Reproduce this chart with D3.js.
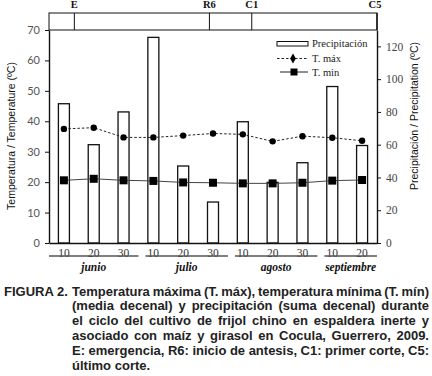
<!DOCTYPE html>
<html>
<head>
<meta charset="utf-8">
<script src="https://cdn.jsdelivr.net/npm/d3@7"></script>
<style>
  body { margin: 0; background: #fff; }
  svg { display: block; }
</style>
</head>
<body>
<div id="chrt"></div>
<script>
// decades (10, 20, 30 of each month)
const decadeLabels = ['10', '20', '30', '10', '20', '30', '10', '20', '30', '10', '20'];
const precip = [85, 60, 80, 125.5, 47, 25, 74, 37, 49, 95.5, 59.5];   // mm, right axis
const tMax = [37.5, 37.9, 34.7, 34.7, 35.3, 36.0, 35.7, 33.4, 35.1, 34.6, 33.6];
const tMin = [20.6, 21.1, 20.6, 20.4, 19.9, 19.8, 19.6, 19.6, 19.8, 20.5, 20.7];
const months = ['junio', 'julio', 'agosto', 'septiembre'];
const monthStart = [0, 3, 6, 9];
const monthCount = [3, 3, 3, 2];
// crop stages (position in decade index units)
const stageLabels = ['E', 'R6', 'C1', 'C5'];
const stagePos = [0.35, 4.88, 6.3, 10.5];
const leftTicks = [0, 10, 20, 30, 40, 50, 60, 70];
const rightTicks = [0, 20, 40, 60, 80, 100, 120];
const captionLines = [
  'Temperatura máxima (T. máx), temperatura mínima (T. mín)',
  '(media decenal) y precipitación (suma decenal) durante',
  'el ciclo del cultivo de frijol chino en espaldera inerte y',
  'asociado con maíz y girasol en Cocula, Guerrero, 2009.',
  'E: emergencia, R6: inicio de antesis, C1: primer corte, C5:',
  'último corte.'
];

const W = 432, H = 376;
const plotL = 49, plotR = 377, plotT = 30, plotB = 243, bandT = 13;

const svg = d3.select('#chrt').append('svg').attr('width', W).attr('height', H);

const idx = d3.range(decadeLabels.length);
const scaleX = d3.scaleBand().domain(idx).range([plotL, plotR]);
const bw = scaleX.bandwidth();
const cx = (i) => scaleX(i) + bw / 2;
const stageX = d3.scaleLinear().domain([-0.5, decadeLabels.length - 0.5]).range([plotL, plotR]);
const scaleYL = d3.scaleLinear().domain([0, 70]).range([plotB, plotT]);
const scaleYR = d3.scaleLinear().domain([0, 130]).range([plotB, plotT]);

// bars (precipitation)
const barW = 11;
svg.append('g').selectAll('rect')
    .data(precip)
    .enter().append('rect')
    .attr('x', (d, i) => cx(i) - barW / 2)
    .attr('y', (d) => scaleYR(d))
    .attr('width', barW)
    .attr('height', (d) => plotB - scaleYR(d))
    .attr('fill', '#fff')
    .attr('stroke', '#111')
    .attr('stroke-width', 1.3);

// T min line
svg.append('path')
    .datum(tMin)
    .attr('fill', 'none')
    .attr('stroke', '#444')
    .attr('stroke-width', 1)
    .attr('d', d3.line().x((d, i) => cx(i)).y((d) => scaleYL(d)));
svg.append('g').selectAll('rect')
    .data(tMin)
    .enter().append('rect')
    .attr('x', (d, i) => cx(i) - 4)
    .attr('y', (d) => scaleYL(d) - 4)
    .attr('width', 8)
    .attr('height', 8)
    .attr('fill', '#000');

// T max line
svg.append('path')
    .datum(tMax)
    .attr('fill', 'none')
    .attr('stroke', '#222')
    .attr('stroke-width', 1)
    .attr('stroke-dasharray', '2.5,2')
    .attr('d', d3.line().x((d, i) => cx(i)).y((d) => scaleYL(d)));
svg.append('g').selectAll('circle')
    .data(tMax)
    .enter().append('circle')
    .attr('cx', (d, i) => cx(i))
    .attr('cy', (d) => scaleYL(d))
    .attr('r', 3.2)
    .attr('fill', '#000');

// axes
const axL = svg.append('g').attr('transform', 'translate(' + plotL + ',0)')
    .call(d3.axisLeft(scaleYL).tickValues(leftTicks).tickSize(4).tickSizeOuter(0));
axL.selectAll('text').attr('font-family', 'Lato, sans-serif').attr('font-size', 11).attr('fill', '#555').attr('dx', -2);
const axR = svg.append('g').attr('transform', 'translate(' + plotR + ',0)')
    .call(d3.axisRight(scaleYR).tickValues(rightTicks).tickSize(4).tickSizeOuter(0));
axR.selectAll('text').attr('font-family', '"Liberation Serif", serif').attr('font-size', 11.5).attr('fill', '#444').attr('dx', 2);
[axL, axR].forEach((a) => {
  a.select('.domain').attr('stroke', '#111').attr('stroke-width', 1.4);
  a.selectAll('line').attr('stroke', '#111');
});

const axB = svg.append('g').attr('transform', 'translate(0,' + plotB + ')')
    .call(d3.axisBottom(scaleX).tickFormat((i) => decadeLabels[i]).tickSize(0).tickSizeOuter(0).tickPadding(6));
axB.select('.domain').attr('stroke', '#111').attr('stroke-width', 1.4);
axB.selectAll('text').attr('font-family', '"Liberation Serif", serif').attr('font-size', 11.5).attr('fill', '#333');

// stage header band
svg.append('rect')
    .attr('x', plotL).attr('y', bandT)
    .attr('width', plotR - plotL).attr('height', plotT - bandT)
    .attr('fill', 'none').attr('stroke', '#111').attr('stroke-width', 1);
svg.append('line')
    .attr('x1', plotR).attr('x2', plotR).attr('y1', bandT).attr('y2', plotT)
    .attr('stroke', '#111').attr('stroke-width', 1.4);
svg.append('g').selectAll('line')
    .data(stagePos.slice(0, 3))
    .enter().append('line')
    .attr('x1', (d) => stageX(d)).attr('x2', (d) => stageX(d))
    .attr('y1', bandT).attr('y2', plotT)
    .attr('stroke', '#111').attr('stroke-width', 1);
svg.append('g').selectAll('text')
    .data(stageLabels)
    .enter().append('text')
    .attr('x', (d, i) => stageX(stagePos[i]) - (i === 3 ? 2 : 0))
    .attr('y', 8)
    .attr('text-anchor', 'middle')
    .attr('font-family', '"Liberation Serif", serif')
    .attr('font-weight', 'bold')
    .attr('font-size', 10.5)
    .attr('fill', '#111')
    .text((d) => d);

// month groups
months.forEach((m, k) => {
  const x0 = scaleX(monthStart[k]) + (k === 0 ? 0 : 7);
  const x1 = scaleX(monthStart[k] + monthCount[k] - 1) + bw;
  svg.append('line')
      .attr('x1', x0).attr('x2', x1).attr('y1', 256).attr('y2', 256)
      .attr('stroke', '#555').attr('stroke-width', 1.3);
  svg.append('text')
      .attr('x', (x0 + x1) / 2)
      .attr('y', 271)
      .attr('text-anchor', 'middle')
      .attr('font-family', '"Liberation Serif", serif')
      .attr('font-style', 'italic')
      .attr('font-weight', 'bold')
      .attr('font-size', 11.5)
      .attr('fill', '#111')
      .text(m);
});

// axis titles
svg.append('text')
    .attr('transform', 'translate(15,' + 136 + ') rotate(-90)')
    .attr('text-anchor', 'middle')
    .attr('font-family', '"Liberation Sans", Arial, sans-serif')
    .attr('font-size', 10.5)
    .attr('fill', '#111')
    .text('Temperatura / Temperature (ºC)');
svg.append('text')
    .attr('transform', 'translate(418,' + 116 + ') rotate(-90)')
    .attr('text-anchor', 'middle')
    .attr('font-family', '"Liberation Sans", Arial, sans-serif')
    .attr('font-size', 10.5)
    .attr('fill', '#111')
    .text('Precipitación / Precipitation (ºC)');

// legend
const lg = svg.append('g').attr('transform', 'translate(277,0)');
const lgFont = (sel) => sel.attr('font-family', '"Liberation Serif", serif').attr('font-size', 10.5).attr('fill', '#222');
lg.append('rect').attr('x', 0).attr('y', 41.5).attr('width', 31).attr('height', 4.5)
    .attr('fill', '#fff').attr('stroke', '#111').attr('stroke-width', 1);
lgFont(lg.append('text').attr('x', 35).attr('y', 47).text('Precipitación'));
lg.append('line').attr('x1', 0).attr('x2', 31).attr('y1', 58.5).attr('y2', 58.5)
    .attr('stroke', '#222').attr('stroke-dasharray', '2.5,2');
lg.append('path').attr('d', d3.symbol(d3.symbolDiamond, 28)).attr('transform', 'translate(16,58.5)').attr('fill', '#000');
lgFont(lg.append('text').attr('x', 35).attr('y', 62).text('T. máx'));
lg.append('line').attr('x1', 3).attr('x2', 31).attr('y1', 72).attr('y2', 72).attr('stroke', '#222');
lg.append('rect').attr('x', 13.5).attr('y', 68.5).attr('width', 7).attr('height', 7).attr('fill', '#000');
lgFont(lg.append('text').attr('x', 35).attr('y', 75.5).text('T. min'));

// caption, justified
const cap = svg.append('g')
    .attr('font-family', '"Liberation Sans", Arial, sans-serif')
    .attr('font-weight', 'bold')
    .attr('font-size', 13)
    .attr('fill', '#222');
cap.append('text').attr('x', 4).attr('y', 295.5).text('FIGURA 2.');
const capL = 72, capR = 429;
captionLines.forEach((line, li) => {
  const y = 295.5 + li * 14.8;
  const words = line.split(' ');
  const nodes = words.map((w) => cap.append('text').attr('y', y).text(w));
  const widths = nodes.map((n) => n.node().getComputedTextLength());
  const total = d3.sum(widths);
  const last = li === captionLines.length - 1;
  const gap = last ? 3.8 : (capR - capL - total) / (words.length - 1);
  let x = capL;
  nodes.forEach((n, k) => {
    n.attr('x', x);
    x += widths[k] + gap;
  });
});
</script>
</body>
</html>
